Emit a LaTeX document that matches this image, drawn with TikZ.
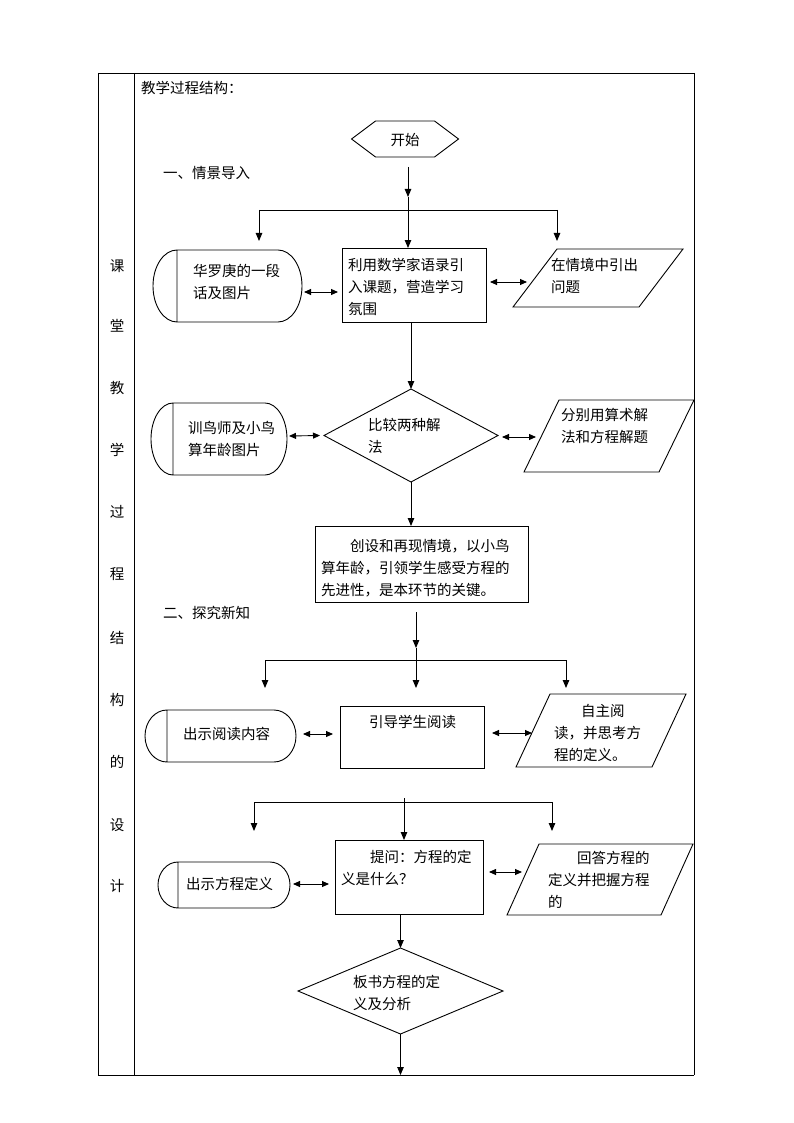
\documentclass[tikz,border=0pt]{standalone}
\usepackage{fontspec}
\setmainfont{Noto Sans CJK SC}
\usetikzlibrary{arrows.meta,calc}
\newcommand\myterm[2]{%
  \draw[shapeline] let \p1=(#1.north), \p2=(#1.south), \n1={abs(\y1-\y2)/2} in
    ([xshift=#2]#1.north west) -- ([xshift=-#2]#1.north east)
    arc[start angle=90,end angle=-90,x radius=#2,y radius=\n1]
    -- ([xshift=#2]#1.south west)
    arc[start angle=270,end angle=90,x radius=#2,y radius=\n1] -- cycle
    ([xshift=#2]#1.north west) -- ([xshift=#2]#1.south west);}
\newcommand\mypara[2]{%
  \draw[shapeline] ([xshift=#2]#1.north west) -- (#1.north east)
    -- ([xshift=-#2]#1.south east) -- (#1.south west) -- cycle;}
\newcommand\mydia[1]{%
  \draw[shapeline] (#1.north) -- (#1.east) -- (#1.south) -- (#1.west) -- cycle;}
\begin{document}
\begin{tikzpicture}[x=1pt,y=-1pt,
  shapeline/.style={line width=0.9pt},
  frame/.style={inner sep=0pt,outer sep=0pt},
  box/.style={draw,line width=0.9pt,inner sep=0pt,outer sep=0pt},
  txt/.style={inner sep=0pt,align=left,anchor=west,font=\fontsize{14.5pt}{22pt}\selectfont},
  conn/.style={line width=0.9pt},
  arr/.style={line width=0.9pt,-{Triangle[length=8pt,width=6.5pt]}},
  dbl/.style={line width=0.9pt,{Triangle[length=7pt,width=6pt]}-{Triangle[length=7pt,width=6pt]}}]
\useasboundingbox (0,0) rectangle (794,1123);
% table frame
\draw[conn] (98,73) -- (694,73);
\draw[conn] (98,1075) -- (694,1075);
\draw[conn] (98,73) -- (98,1075);
\draw[conn] (134,73) -- (134,1075);
\draw[conn] (694,73) -- (694,1075);
\foreach \yy/\ch [count=\i] in {266/课,326/堂,388/教,450/学,512/过,574/程,638/结,700/构,762/的,825/设,886/计}
  \node[txt,anchor=center] (L\i) at (117,\yy) {\ch};
\node[txt] (title) at (141,88) {教学过程结构：};
% start
\node[frame,minimum width=107pt,minimum height=36pt] (start) at (405,139) {};
\draw[shapeline] (start.west) -- ([xshift=24pt]start.north west) -- ([xshift=-24pt]start.north east)
  -- (start.east) -- ([xshift=-24pt]start.south east) -- ([xshift=24pt]start.south west) -- cycle;
\node[txt,anchor=center] (tstart) at (405,140) {开始};
\node[txt] (sec1) at (163,173) {一、情景导入};
% row 1
\node[box,minimum width=144pt,minimum height=74pt] (n12) at (414,285) {};
\node[frame,minimum width=149pt,minimum height=72pt] (n11) at (227.5,286) {};
\myterm{n11}{24pt}
\node[frame,minimum width=170pt,minimum height=58pt] (n13) at (598,278) {};
\mypara{n13}{44pt}
\node[txt] (t11) at (193,282) {华罗庚的一段\\话及图片};
\node[txt] (t12) at (348,287) {利用数学家语录引\\入课题，营造学习\\氛围};
\node[txt] (t13) at (551,276) {在情境中引出\\问题};
\coordinate (c1) at (408,167);
\coordinate (c2) at (408,197);
\coordinate (b1l) at (259,210);
\coordinate (b1m) at (408,210);
\coordinate (b1r) at (557,210);
\coordinate (e1l) at (259,241);
\coordinate (e1r) at (557,241);
\draw[arr] (c1) -- (c2);
\draw[conn] (c2) -- (b1m);
\draw[conn] (b1l) -- (b1r);
\draw[arr] (b1l) -- (e1l);
\draw[arr] (b1r) -- (e1r);
\draw[arr] (b1m) -- (b1m |- n12.north);
\draw[dbl] ([xshift=2pt,yshift=-6pt]n11.east) -- ([xshift=-4pt,yshift=-7pt]n12.west);
\draw[dbl] ([xshift=4pt,yshift=3pt]n12.east) -- ([xshift=14pt,yshift=-4pt]n13.west);
% row 2
\node[frame,minimum width=174pt,minimum height=93pt] (n21) at (411,435.5) {};
\mydia{n21}
\draw[arr] (n21.north |- n12.south) -- (n21.north);
\node[txt] (t21) at (368,436) {比较两种解\\法};
\node[frame,minimum width=136pt,minimum height=72pt] (n20) at (219,439) {};
\myterm{n20}{22pt}
\node[txt] (t20) at (188,439) {训鸟师及小鸟\\算年龄图片};
\node[frame,minimum width=170pt,minimum height=72pt] (n22) at (609,436) {};
\mypara{n22}{35pt}
\node[txt] (t22) at (561,426) {分别用算术解\\法和方程解题};
\draw[dbl] ([xshift=2pt,yshift=3pt]n20.east) -- ([xshift=-4pt]n21.west);
\draw[dbl] ([xshift=4pt,yshift=-1.5pt]n21.east) -- ([xshift=12pt,yshift=-1pt]n22.west);
\node[box,minimum width=213pt,minimum height=76pt] (n23) at (421.5,564) {};
\draw[arr] (n21.south) -- (n21.south |- n23.north);
\node[txt] (t23) at (321,568) {\hspace{29pt}创设和再现情境，以小鸟\\算年龄，引领学生感受方程的\\先进性，是本环节的关键。};
\node[txt] (sec2) at (163,613) {二、探究新知};
% row 3
\coordinate (c3) at (416,612);
\coordinate (c4) at (416,648);
\coordinate (b3l) at (265,660);
\coordinate (b3m) at (416,660);
\coordinate (b3r) at (566,660);
\coordinate (e3l) at (265,688);
\coordinate (e3m) at (416,688);
\coordinate (e3r) at (566,688);
\draw[arr] (c3) -- (c4);
\draw[conn] (c4) -- (b3m);
\draw[conn] (b3l) -- (b3r);
\draw[arr] (b3l) -- (e3l);
\draw[arr] (b3m) -- (e3m);
\draw[arr] (b3r) -- (e3r);
\node[frame,minimum width=151pt,minimum height=52pt] (n31) at (220.5,736) {};
\myterm{n31}{22pt}
\node[txt] (t31) at (183,734) {出示阅读内容};
\node[box,minimum width=144pt,minimum height=62pt] (n32) at (412,737) {};
\node[txt] (t32) at (369,722) {引导学生阅读};
\node[frame,minimum width=170pt,minimum height=73pt] (n33) at (601,730.5) {};
\mypara{n33}{34pt}
\node[txt] (t33) at (554,733) {\hspace{27pt}自主阅\\读，并思考方\\程的定义。};
\draw[dbl] ([xshift=7pt,yshift=2pt]n31.east) -- ([xshift=-7pt,yshift=3pt]n32.west);
\draw[dbl] ([xshift=8pt,yshift=4pt]n32.east) -- ([xshift=16pt,yshift=-2.5pt]n33.west);
% row 4
\node[box,minimum width=148pt,minimum height=74pt] (n42) at (409,877) {};
\coordinate (c5) at (404,798);
\coordinate (b4l) at (254,802);
\coordinate (b4m) at (404,802);
\coordinate (b4r) at (552,802);
\coordinate (e4l) at (254,831);
\coordinate (e4r) at (552,831);
\draw[conn] (b4l) -- (b4r);
\draw[arr] (b4l) -- (e4l);
\draw[arr] (b4r) -- (e4r);
\draw[arr] (c5) -- (c5 |- n42.north);
\node[txt] (t42) at (341,868) {\hspace{29pt}提问：方程的定\\义是什么？};
\node[frame,minimum width=132pt,minimum height=46pt] (n41) at (224,885) {};
\myterm{n41}{20pt}
\node[txt] (t41) at (186,884) {出示方程定义};
\node[frame,minimum width=186pt,minimum height=71pt] (n43) at (600,879.5) {};
\mypara{n43}{32pt}
\node[txt] (t43) at (548,880) {\hspace{29pt}回答方程的\\定义并把握方程\\的};
\draw[dbl] ([xshift=3pt,yshift=1pt]n41.east) -- ([xshift=-6pt,yshift=-7pt]n42.west);
\draw[dbl] ([xshift=6pt,yshift=5pt]n42.east) -- ([xshift=15pt,yshift=7.5pt]n43.west);
% row 5
\node[frame,minimum width=205pt,minimum height=86pt] (n51) at (400.5,991) {};
\mydia{n51}
\draw[arr] (n51.north |- n42.south) -- (n51.north);
\node[txt] (t51) at (353,993) {板书方程的定\\义及分析};
\coordinate (c6) at (400.5,1075);
\draw[arr] (n51.south) -- (c6);
\end{tikzpicture}
\end{document}
